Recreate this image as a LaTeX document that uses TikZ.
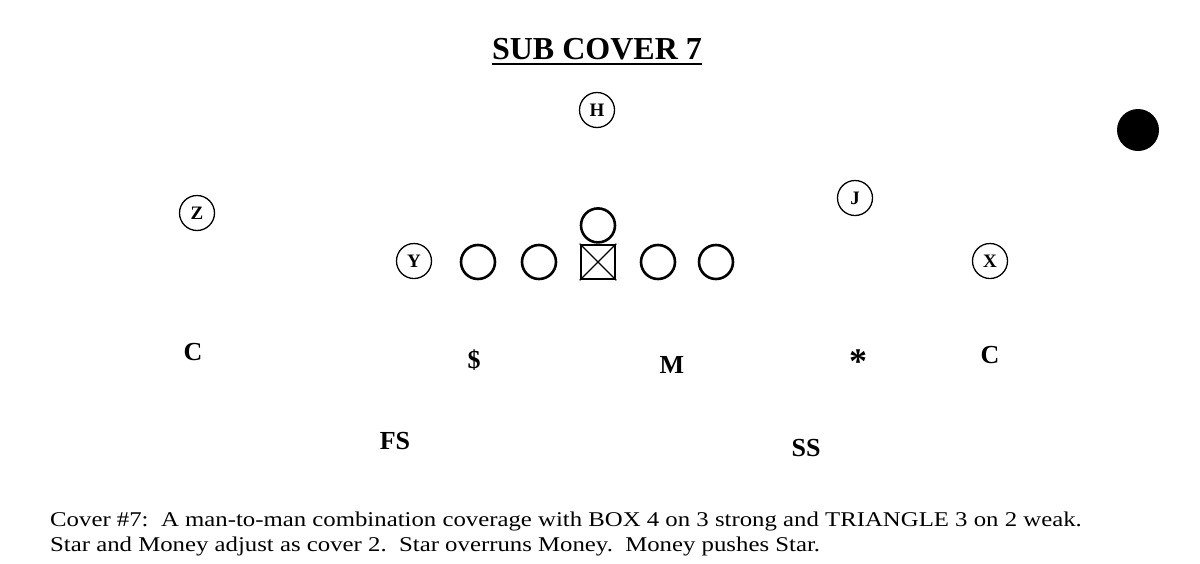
\documentclass[tikz,border=0pt]{standalone}
\usepackage{fontspec}
\setmainfont{Liberation Serif}
\usetikzlibrary{positioning}
\tikzset {
    back/.style = {circle, draw=black, line width=1.3pt, minimum size=35pt, inner sep=0pt, font=\fontsize{19}{19}\selectfont\bfseries},
    oline/.style = {circle, draw=black, line width=2.6pt, minimum size=34pt, inner sep=0pt},
    ctr/.style = {rectangle, draw=black, line width=2.6pt, minimum size=34pt, inner sep=0pt},
    dback/.style = {inner sep=0pt, font=\fontsize{26}{26}\selectfont\bfseries},
    note/.style = {anchor=base west, inner sep=0pt, font=\fontsize{21}{21}\selectfont}
}

\begin{document}
\begin{tikzpicture}[x=1pt, y=-1pt]
	\useasboundingbox (0,0) rectangle (1200,563);
	\fill[white] (0,0) rectangle (1200,563);
	% title
	\node (title) [inner sep=0pt, font=\fontsize{32}{32}\selectfont\bfseries] at (597,49) {SUB COVER 7};
	\draw[line width=1.6pt] ([yshift=-4pt]title.south west) -- ([yshift=-4pt]title.south east);
	% offense
	\node (h) [back] at (597,110) {H};
	\node (z) [back] at (197,213) {Z};
	\node (j) [back] at (855,198) {J};
	\node (y) [back] at (414,261) {Y};
	\node (x) [back] at (990,261) {X};
	\node (c) [ctr] at (598,262) {};
	\draw[line width=1.2pt] (c.north west) -- (c.south east);
	\draw[line width=1.2pt] (c.north east) -- (c.south west);
	\node (qb) [oline, above=0pt of c] {};
	\node (lg) [oline] at (539,262) {};
	\node (lt) [oline] at (478,262) {};
	\node (rg) [oline] at (658,262) {};
	\node (rt) [oline] at (716,262) {};
	% defense
	\node (lc) [dback] at (193,352) {C};
	\node (sam) [dback] at (474,360) {\$};
	\node (mike) [dback] at (672,365) {M};
	\node (star) [dback, font=\fontsize{36}{36}\selectfont\bfseries] at (858,362) {*};
	\node (rc) [dback] at (990,355) {C};
	\node (fs) [dback] at (395,441) {FS};
	\node (ss) [dback] at (806,448) {SS};
	% note
	\node (note1) [note] at (50,526) {\scalebox{1.18}[1]{Cover \#7:\ \ A man-to-man combination coverage with BOX 4 on 3 strong and TRIANGLE 3 on 2 weak.}};
	\node (note2) [note] at (50,551) {\scalebox{1.18}[1]{Star and Money adjust as cover 2.\ \ Star overruns Money.\ \ Money pushes Star.}};
	% punch hole
	\fill (1138,130) circle (21pt);
\end{tikzpicture}
\end{document}
